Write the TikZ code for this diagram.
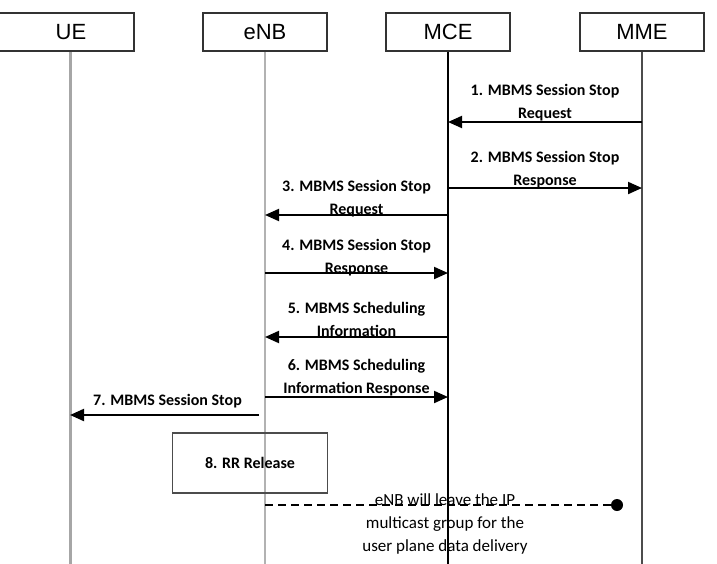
\documentclass[tikz,border=0pt]{standalone}
\usepackage{fontspec}
\setmainfont{Carlito}
\newfontfamily\headfont{Liberation Sans}
\usetikzlibrary{arrows.meta, positioning}

\begin{document}
\begin{tikzpicture}[
    x=1pt, y=-1pt,
    every node/.style={font=\fontsize{16}{23}\selectfont\bfseries},
    head/.style={rectangle, draw=black!80, line width=1.5pt, minimum width=124pt,
                 minimum height=38pt, font=\headfont\fontsize{22}{26}\selectfont},
    life/.style={line width=1.5pt},
    msg/.style={-{Triangle[length=14pt, width=12pt]}, line width=2pt},
    lbl/.style={align=center, inner sep=0pt},
    rrbox/.style={rectangle, draw=black!70, line width=1.5pt, minimum width=155pt,
                  minimum height=60pt},
    dot/.style={circle, fill=black, inner sep=0pt, minimum size=12pt},
    leave/.style={line width=2.5pt, dash pattern=on 8pt off 5pt}
  ]

  \useasboundingbox (0,0) rectangle (717,563);
  \clip (0,0) rectangle (717,563);

  % header boxes
  \node[head, minimum width=140pt] (ue) at (64,32) {\hspace*{14pt}UE};
  \node[head] (enb) at (265,32) {eNB};
  \node[head] (mce) at (448,32) {MCE};
  \node[head] (mme) at (642,32) {MME};

  \coordinate (ueL) at ([xshift=6pt]ue.south);
  \coordinate (bottom) at (0,570);

  % lifelines
  \draw[life, gray!70, line width=3pt] (ueL) -- (ueL |- bottom);
  \draw[life, gray!60, line width=2.5pt] (enb.south) -- (enb |- bottom);
  \draw[life, black, line width=2pt] (mce.south) -- (mce |- bottom);
  \draw[life, black!70] (mme.south) -- (mme |- bottom);

  % message rows
  \coordinate (m1) at (0,122);
  \coordinate (m2) at (0,188);
  \coordinate (m3) at (0,215);
  \coordinate (m4) at (0,273);
  \coordinate (m5) at (0,337);
  \coordinate (m6) at (0,397);
  \coordinate (m7) at (0,415);
  \coordinate (m9) at (0,505);

  \draw[msg] (mme |- m1) -- node[lbl, above=0pt] {1. MBMS Session Stop\\Request} (mce |- m1);
  \draw[msg] (mce |- m2) -- node[lbl, above=-1pt] {2. MBMS Session Stop\\Response} (mme |- m2);
  \draw[msg] (mce |- m3) -- node[lbl, above=-3pt] {3. MBMS Session Stop\\Request} (enb |- m3);
  \draw[msg] (enb |- m4) -- node[lbl, above=-4pt] {4. MBMS Session Stop\\Response} (mce |- m4);
  \draw[msg] (mce |- m5) -- node[lbl, above=-1pt] {5. MBMS Scheduling\\Information} (enb |- m5);
  \draw[msg] (enb |- m6) -- node[lbl, above=0pt] {6. MBMS Scheduling\\Information Response} (mce |- m6);
  \draw[msg, shorten <=6pt] (enb |- m7) -- node[lbl, above=6pt] {7. MBMS Session Stop} (ueL |- m7);

  \node[rrbox] (rr) at (250,463) {8. RR Release};

  \node[dot] (quit) at (617,505) {};
  \draw[leave] (enb |- m9) -- (quit);
  \node[align=center, font=\fontsize{17}{23}\selectfont] (note) at (445,524)
    {eNB will leave the IP\\multicast group for the\\user plane data delivery};

\end{tikzpicture}
\end{document}
